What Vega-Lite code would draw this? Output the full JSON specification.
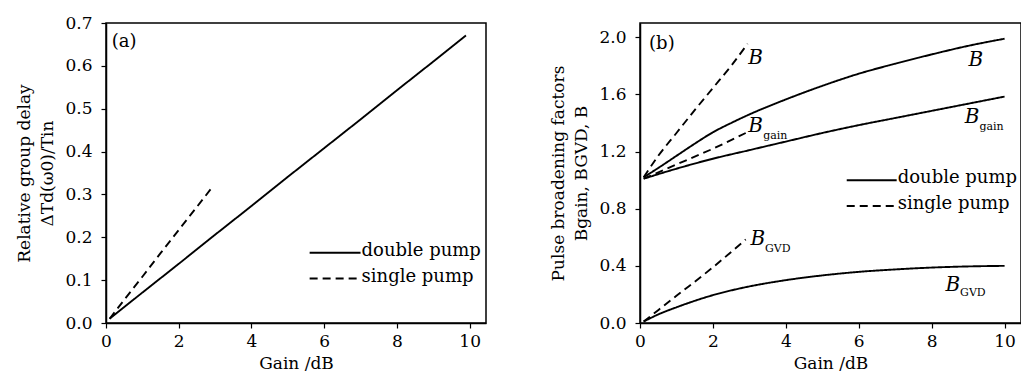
{
  "$schema": "https://vega.github.io/schema/vega-lite/v6.json",
  "padding": {"left": 15, "top": 13, "right": 0, "bottom": 0},
  "background": "white",
  "spacing": 62,
  "config": {
    "font": "DejaVu Serif",
    "view": {"stroke": "black", "strokeWidth": 1.5},
    "axis": {
      "grid": false,
      "domainColor": "black",
      "domainWidth": 1.5,
      "tickColor": "black",
      "tickWidth": 1.2,
      "tickSize": 5,
      "labelFont": "DejaVu Serif",
      "labelFontSize": 17,
      "labelColor": "black",
      "labelPadding": 9,
      "labelFlush": false,
      "labelOverlap": false,
      "titleFont": "DejaVu Serif",
      "titleFontSize": 17,
      "titleFontWeight": "normal",
      "titleColor": "black",
      "titleLineHeight": 23
    },
    "axisX": {"labelPadding": 5, "titlePadding": 6},
    "axisY": {"titlePadding": 8}
  },
  "datasets": {
    "delay": [
      {"pump": "double pump", "gain": 0.1, "delay": 0.01},
      {"pump": "double pump", "gain": 1, "delay": 0.071},
      {"pump": "double pump", "gain": 2, "delay": 0.138},
      {"pump": "double pump", "gain": 3, "delay": 0.206},
      {"pump": "double pump", "gain": 4, "delay": 0.273},
      {"pump": "double pump", "gain": 5, "delay": 0.341},
      {"pump": "double pump", "gain": 6, "delay": 0.408},
      {"pump": "double pump", "gain": 7, "delay": 0.475},
      {"pump": "double pump", "gain": 8, "delay": 0.543},
      {"pump": "double pump", "gain": 9, "delay": 0.61},
      {"pump": "double pump", "gain": 9.9, "delay": 0.671},
      {"pump": "single pump", "gain": 0.1, "delay": 0.01},
      {"pump": "single pump", "gain": 0.5, "delay": 0.054},
      {"pump": "single pump", "gain": 1, "delay": 0.108},
      {"pump": "single pump", "gain": 1.5, "delay": 0.163},
      {"pump": "single pump", "gain": 2, "delay": 0.217},
      {"pump": "single pump", "gain": 2.5, "delay": 0.271},
      {"pump": "single pump", "gain": 2.95, "delay": 0.32}
    ],
    "broadening": [
      {"pump": "double pump", "factor": "B", "gain": 0.1, "value": 1.02},
      {"pump": "double pump", "factor": "B", "gain": 0.5, "value": 1.085},
      {"pump": "double pump", "factor": "B", "gain": 1, "value": 1.17},
      {"pump": "double pump", "factor": "B", "gain": 1.5, "value": 1.255},
      {"pump": "double pump", "factor": "B", "gain": 2, "value": 1.335},
      {"pump": "double pump", "factor": "B", "gain": 2.5, "value": 1.4},
      {"pump": "double pump", "factor": "B", "gain": 3, "value": 1.46},
      {"pump": "double pump", "factor": "B", "gain": 4, "value": 1.565},
      {"pump": "double pump", "factor": "B", "gain": 5, "value": 1.66},
      {"pump": "double pump", "factor": "B", "gain": 6, "value": 1.745},
      {"pump": "double pump", "factor": "B", "gain": 7, "value": 1.815},
      {"pump": "double pump", "factor": "B", "gain": 8, "value": 1.88},
      {"pump": "double pump", "factor": "B", "gain": 9, "value": 1.94},
      {"pump": "double pump", "factor": "B", "gain": 10, "value": 1.99},
      {"pump": "double pump", "factor": "Bgain", "gain": 0.1, "value": 1.01},
      {"pump": "double pump", "factor": "Bgain", "gain": 1, "value": 1.08},
      {"pump": "double pump", "factor": "Bgain", "gain": 2, "value": 1.15},
      {"pump": "double pump", "factor": "Bgain", "gain": 3, "value": 1.21},
      {"pump": "double pump", "factor": "Bgain", "gain": 4, "value": 1.27},
      {"pump": "double pump", "factor": "Bgain", "gain": 5, "value": 1.33},
      {"pump": "double pump", "factor": "Bgain", "gain": 6, "value": 1.385},
      {"pump": "double pump", "factor": "Bgain", "gain": 7, "value": 1.435},
      {"pump": "double pump", "factor": "Bgain", "gain": 8, "value": 1.485},
      {"pump": "double pump", "factor": "Bgain", "gain": 9, "value": 1.535},
      {"pump": "double pump", "factor": "Bgain", "gain": 10, "value": 1.585},
      {"pump": "double pump", "factor": "BGVD", "gain": 0.1, "value": 0.01},
      {"pump": "double pump", "factor": "BGVD", "gain": 0.5, "value": 0.06},
      {"pump": "double pump", "factor": "BGVD", "gain": 1, "value": 0.11},
      {"pump": "double pump", "factor": "BGVD", "gain": 1.5, "value": 0.155},
      {"pump": "double pump", "factor": "BGVD", "gain": 2, "value": 0.195},
      {"pump": "double pump", "factor": "BGVD", "gain": 2.5, "value": 0.228},
      {"pump": "double pump", "factor": "BGVD", "gain": 3, "value": 0.256},
      {"pump": "double pump", "factor": "BGVD", "gain": 4, "value": 0.3},
      {"pump": "double pump", "factor": "BGVD", "gain": 5, "value": 0.333},
      {"pump": "double pump", "factor": "BGVD", "gain": 6, "value": 0.358},
      {"pump": "double pump", "factor": "BGVD", "gain": 7, "value": 0.375},
      {"pump": "double pump", "factor": "BGVD", "gain": 8, "value": 0.388},
      {"pump": "double pump", "factor": "BGVD", "gain": 9, "value": 0.396},
      {"pump": "double pump", "factor": "BGVD", "gain": 10, "value": 0.4},
      {"pump": "single pump", "factor": "B", "gain": 0.1, "value": 1.02},
      {"pump": "single pump", "factor": "B", "gain": 0.5, "value": 1.17},
      {"pump": "single pump", "factor": "B", "gain": 1, "value": 1.33},
      {"pump": "single pump", "factor": "B", "gain": 1.5, "value": 1.49},
      {"pump": "single pump", "factor": "B", "gain": 2, "value": 1.645},
      {"pump": "single pump", "factor": "B", "gain": 2.5, "value": 1.8},
      {"pump": "single pump", "factor": "B", "gain": 2.95, "value": 1.955},
      {"pump": "single pump", "factor": "Bgain", "gain": 0.1, "value": 1.01},
      {"pump": "single pump", "factor": "Bgain", "gain": 1, "value": 1.11},
      {"pump": "single pump", "factor": "Bgain", "gain": 2, "value": 1.22},
      {"pump": "single pump", "factor": "Bgain", "gain": 2.9, "value": 1.33},
      {"pump": "single pump", "factor": "BGVD", "gain": 0.1, "value": 0.01},
      {"pump": "single pump", "factor": "BGVD", "gain": 1, "value": 0.19},
      {"pump": "single pump", "factor": "BGVD", "gain": 2, "value": 0.39},
      {"pump": "single pump", "factor": "BGVD", "gain": 2.9, "value": 0.585}
    ],
    "legendA": [
      {"pump": "double pump", "x1": 5.6, "x2": 7.0, "y": 0.164, "ty": 0.168},
      {"pump": "single pump", "x1": 5.6, "x2": 7.0, "y": 0.104, "ty": 0.107}
    ],
    "legendB": [
      {"pump": "double pump", "x1": 5.67, "x2": 7.04, "y": 0.999, "ty": 1.012},
      {"pump": "single pump", "x1": 5.67, "x2": 7.04, "y": 0.819, "ty": 0.83}
    ],
    "lettersB": [
      {"label": "B", "gain": 3.17, "value": 1.856},
      {"label": "B", "gain": 9.21, "value": 1.844},
      {"label": "B", "gain": 3.17, "value": 1.377},
      {"label": "B", "gain": 9.11, "value": 1.44},
      {"label": "B", "gain": 3.23, "value": 0.586},
      {"label": "B", "gain": 8.58, "value": 0.269}
    ],
    "subsB": [
      {"label": "gain", "gain": 3.38, "value": 1.309},
      {"label": "gain", "gain": 9.31, "value": 1.369},
      {"label": "GVD", "gain": 3.43, "value": 0.517},
      {"label": "GVD", "gain": 8.78, "value": 0.211}
    ]
  },
  "hconcat": [
    {
      "width": 380,
      "height": 300,
      "layer": [
        {
          "data": {"name": "delay"},
          "mark": {"type": "line", "color": "black", "strokeWidth": 1.9},
          "encoding": {
            "x": {"field": "gain", "type": "quantitative", "scale": {"domain": [0, 10.45], "nice": false, "zero": false},
                  "axis": {"title": "Gain /dB", "values": [0,1,2,3,4,5,6,7,8,9,10], "labelExpr": "datum.value % 2 === 0 ? datum.label : ''"}},
            "y": {"field": "delay", "type": "quantitative", "scale": {"domain": [0, 0.7], "nice": false},
                  "axis": {"title": ["Relative group delay", "ΔTd(ω0)/Tin"], "values": [0,0.05,0.1,0.15,0.2,0.25,0.3,0.35,0.4,0.45,0.5,0.55,0.6,0.65,0.7], "labelExpr": "round(datum.value*20) % 2 === 0 ? format(datum.value, '.1f') : ''"}},
            "strokeDash": {"field": "pump", "type": "nominal", "scale": {"domain": ["double pump", "single pump"], "range": [[1, 0], [8, 5]]}, "legend": null}
          }
        },
        {
          "data": {"name": "legendA"},
          "mark": {"type": "rule", "color": "black", "strokeWidth": 1.9},
          "encoding": {
            "x": {"field": "x1", "type": "quantitative"},
            "x2": {"field": "x2"},
            "y": {"field": "y", "type": "quantitative"},
            "strokeDash": {"field": "pump", "type": "nominal", "legend": null}
          }
        },
        {
          "data": {"name": "legendA"},
          "mark": {"type": "text", "align": "left", "baseline": "middle", "fontSize": 18, "color": "black", "dx": 1},
          "encoding": {
            "x": {"field": "x2", "type": "quantitative"},
            "y": {"field": "ty", "type": "quantitative"},
            "text": {"field": "pump"}
          }
        },
        {
          "data": {"values": [{"label": "(a)", "gain": 0.5, "value": 0.655}]},
          "mark": {"type": "text", "align": "center", "baseline": "middle", "fontSize": 18, "color": "black"},
          "encoding": {
            "x": {"field": "gain", "type": "quantitative"},
            "y": {"field": "value", "type": "quantitative"},
            "text": {"field": "label"}
          }
        }
      ]
    },
    {
      "width": 381,
      "height": 300,
      "layer": [
        {
          "data": {"name": "broadening"},
          "mark": {"type": "line", "color": "black", "strokeWidth": 1.9, "interpolate": "monotone"},
          "encoding": {
            "x": {"field": "gain", "type": "quantitative", "scale": {"domain": [0, 10.45], "nice": false, "zero": false},
                  "axis": {"title": "Gain /dB", "values": [0,1,2,3,4,5,6,7,8,9,10], "labelExpr": "datum.value % 2 === 0 ? datum.label : ''"}},
            "y": {"field": "value", "type": "quantitative", "scale": {"domain": [0, 2.1], "nice": false},
                  "axis": {"title": ["Pulse broadening factors", "Bgain, BGVD, B"], "values": [0,0.2,0.4,0.6,0.8,1,1.2,1.4,1.6,1.8,2], "labelExpr": "round(datum.value*5) % 2 === 0 ? format(datum.value, '.1f') : ''"}},
            "detail": {"field": "factor"},
            "strokeDash": {"field": "pump", "type": "nominal", "scale": {"domain": ["double pump", "single pump"], "range": [[1, 0], [8, 5]]}, "legend": null}
          }
        },
        {
          "data": {"name": "legendB"},
          "mark": {"type": "rule", "color": "black", "strokeWidth": 1.9},
          "encoding": {
            "x": {"field": "x1", "type": "quantitative"},
            "x2": {"field": "x2"},
            "y": {"field": "y", "type": "quantitative"},
            "strokeDash": {"field": "pump", "type": "nominal", "legend": null}
          }
        },
        {
          "data": {"name": "legendB"},
          "mark": {"type": "text", "align": "left", "baseline": "middle", "fontSize": 18, "color": "black", "dx": 1},
          "encoding": {
            "x": {"field": "x2", "type": "quantitative"},
            "y": {"field": "ty", "type": "quantitative"},
            "text": {"field": "pump"}
          }
        },
        {
          "data": {"name": "lettersB"},
          "mark": {"type": "text", "align": "center", "baseline": "middle", "fontSize": 20, "fontStyle": "italic", "color": "black"},
          "encoding": {
            "x": {"field": "gain", "type": "quantitative"},
            "y": {"field": "value", "type": "quantitative"},
            "text": {"field": "label"}
          }
        },
        {
          "data": {"name": "subsB"},
          "mark": {"type": "text", "align": "left", "baseline": "middle", "fontSize": 11, "color": "black"},
          "encoding": {
            "x": {"field": "gain", "type": "quantitative"},
            "y": {"field": "value", "type": "quantitative"},
            "text": {"field": "label"}
          }
        },
        {
          "data": {"values": [{"label": "(b)", "gain": 0.6, "value": 1.956}]},
          "mark": {"type": "text", "align": "center", "baseline": "middle", "fontSize": 18, "color": "black"},
          "encoding": {
            "x": {"field": "gain", "type": "quantitative"},
            "y": {"field": "value", "type": "quantitative"},
            "text": {"field": "label"}
          }
        }
      ]
    }
  ]
}
